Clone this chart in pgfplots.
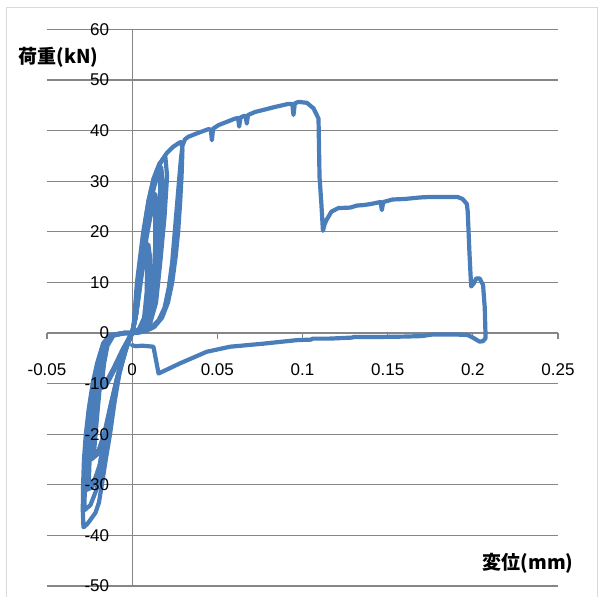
\documentclass[border=0pt]{standalone}
\usepackage{pgfplots}
\pgfplotsset{compat=1.18}
\usepackage{fontspec}
\setmainfont{Liberation Sans}
\newfontfamily\jp{Noto Sans CJK JP}
\definecolor{exblue}{RGB}{74,126,187}
\definecolor{exgrid}{RGB}{134,134,134}
\definecolor{exframe}{RGB}{217,217,217}
\tikzset{hys/.style={draw=exblue, line width=4.2pt, line join=round, line cap=round, mark=none, solid}}
\pgfplotsset{layers/labelstop/.define layer set={axis background,axis grid,axis ticks,axis lines,main,axis tick labels,axis descriptions,axis foreground}{/pgfplots/layers/standard}}
\begin{document}
\begin{tikzpicture}[x=1pt,y=1pt]
\path (0,0) rectangle (600,597);
\begin{axis}[
  set layers=labelstop,
  at={(47pt,11pt)}, anchor=south west,
  scale only axis, width=511pt, height=556.5pt,
  xmin=-0.05, xmax=0.25, ymin=-50, ymax=60,
  axis lines=middle,
  axis line style={-, exgrid, line width=1.3pt},
  xtick={-0.05,0,0.05,0.1,0.15,0.2,0.25},
  xticklabels={-0.05,0,0.05,0.1,0.15,0.2,0.25},
  ytick={-50,-40,-30,-20,-10,0,10,20,30,40,50,60},
  yticklabels={-50,-40,-30,-20,-10,0,10,20,30,40,50,60},
  scaled ticks=false,
  hide obscured x ticks=false, hide obscured y ticks=false,
  tick align=outside, major tick length=5.5pt,
  tick style={exgrid, line width=1.2pt},
  ymajorgrids, major grid style={exgrid, line width=1.2pt},
  tick label style={font=\fontsize{17}{20}\selectfont, text=black},
  xticklabel style={anchor=center, yshift=-31pt},
  yticklabel style={anchor=east, xshift=-14pt},
  clip=false,
]
% cycle A1
\addplot[hys] coordinates {(0,0)(0.0015,3)(0.0035,9)(0.006,13)(0.008,15.5)(0.0088,13)(0.0085,8)(0.007,3)(0.004,0.8)(0,0)
 (-0.004,0)(-0.011,-0.5)(-0.0145,-2.5)(-0.0165,-6)(-0.0178,-10)(-0.015,-9.5)(-0.011,-7)(-0.006,-3.5)(-0.002,-1)(0,0)};
% cycle A2
\addplot[hys] coordinates {(0,0)(0.002,3)(0.0045,10)(0.0075,15)(0.0095,17.5)(0.0105,15)(0.0105,9)(0.0085,3)(0.005,0.8)(0,0)
 (-0.0045,0)(-0.0115,-0.5)(-0.015,-2.5)(-0.0175,-6)(-0.019,-11)(-0.0155,-10.5)(-0.01,-7)(-0.005,-3)(0,0)};
% cycle B1
\addplot[hys] coordinates {(0,0)(0.002,3)(0.004,9)(0.0075,18)(0.0105,23)(0.0125,25.5)(0.0135,23)(0.0135,17)(0.0125,10)(0.0105,4)(0.0065,1)(0,0)
 (-0.005,0)(-0.012,-0.5)(-0.0155,-2.5)(-0.0175,-6)(-0.0188,-10)(-0.0202,-15)(-0.0215,-20)(-0.0225,-24)(-0.019,-23)(-0.0155,-19)(-0.0115,-13)(-0.0075,-7)(-0.003,-2)(0,0)};
% cycle B2
\addplot[hys] coordinates {(0,0)(0.0025,4)(0.005,10)(0.0085,19)(0.0115,24.5)(0.0135,27.5)(0.0148,25)(0.0148,18)(0.0138,10)(0.0115,4)(0.007,1)(0,0)
 (-0.005,0)(-0.0125,-0.5)(-0.016,-2.3)(-0.0185,-6)(-0.020,-10)(-0.0218,-15)(-0.0232,-20)(-0.024,-25)(-0.0205,-24)(-0.0165,-20)(-0.0125,-14)(-0.0085,-8.5)(-0.004,-3)(0,0)};
% cycle C1
\addplot[hys] coordinates {(0,0)(0.002,3)(0.0045,10)(0.0075,19)(0.0105,26)(0.0135,30)(0.0155,31.5)(0.0165,29)(0.016,22)(0.0148,14)(0.0128,6)(0.0095,2)(0.005,0.5)(0,0)
 (-0.005,0)(-0.0125,-0.5)(-0.0162,-2.3)(-0.0192,-6)(-0.021,-10)(-0.0228,-15)(-0.0242,-20)(-0.025,-25)(-0.0255,-30)(-0.0225,-29.5)(-0.019,-26)(-0.0155,-20)(-0.012,-14)(-0.008,-8)(-0.003,-2.5)(0,0)};
% cycle C2
\addplot[hys] coordinates {(0,0)(0.0025,4)(0.005,10.5)(0.0085,20)(0.0115,27)(0.0145,31)(0.017,32.8)(0.018,30)(0.0172,22)(0.0158,13)(0.0135,6)(0.0105,2)(0.006,0.5)(0,0)
 (-0.005,0)(-0.0128,-0.5)(-0.0165,-2.2)(-0.0198,-6)(-0.022,-10)(-0.024,-15)(-0.0255,-20)(-0.0263,-25)(-0.0268,-31)(-0.0235,-30.5)(-0.0195,-27)(-0.0165,-21)(-0.013,-15)(-0.009,-9)(-0.004,-3.5)(0,0)};
% cycle D
\addplot[hys] coordinates {(0,0)(0.0012,2)(0.003,9)(0.0065,19)(0.0095,26)(0.0125,30.5)(0.016,33.5)(0.0195,34.8)(0.0205,31)(0.019,23)(0.0165,14)(0.014,6)(0.0106,2)(0.006,0.5)(0,0)
 (-0.005,0)(-0.013,-0.45)(-0.0168,-2.1)(-0.0202,-6)(-0.0226,-10)(-0.0247,-15)(-0.0263,-20)(-0.0273,-25)(-0.0278,-30)(-0.028,-35)(-0.0245,-34)(-0.021,-31)(-0.018,-27)(-0.015,-21)(-0.0115,-14)(-0.0075,-8)(-0.003,-2.5)(0,0)};
% large cycle E
\addplot[hys] coordinates {(0,0)(0.001,2)(0.0028,10)(0.0065,20)(0.0095,26)(0.0123,30)(0.0147,32.2)(0.0175,34.2)(0.0204,35.6)(0.024,36.8)(0.028,37.7)(0.029,37.7)
 (0.0295,36)(0.029,31)(0.0282,26)(0.027,20)(0.0255,15)(0.0235,10)(0.021,6)(0.0175,3)(0.013,1.2)(0.008,0.4)(0.003,0)(0,0)
 (-0.005,0)(-0.013,-0.4)(-0.017,-2)(-0.0206,-6)(-0.0232,-10)(-0.0255,-15)(-0.0272,-20)(-0.0283,-25)(-0.0288,-30)(-0.029,-35)(-0.0286,-38.4)
 (-0.0265,-37.8)(-0.0247,-37)(-0.0215,-35.5)(-0.0195,-33.5)(-0.0178,-30)(-0.0155,-25)(-0.013,-20)(-0.0105,-14)(-0.0075,-8)(-0.004,-3)(0,0)};
% final loading to failure and unloading
\addplot[hys] coordinates {(0,0)(0.005,0.3)(0.011,1)(0.0155,2.5)(0.019,5)(0.0215,9)(0.0235,14)(0.025,20)(0.0265,26)(0.0275,30)(0.0285,34)(0.0295,37)(0.031,38.3)
 (0.033,38.8)(0.039,39.6)(0.0448,40.3)(0.0462,40.2)(0.0468,38.1)(0.0475,40.4)(0.0507,41.1)(0.0605,42.4)(0.0622,42.5)(0.0628,40.8)(0.0636,42.6)(0.0654,42.9)(0.0666,42.9)(0.0673,41.4)(0.068,43.1)
 (0.0722,43.7)(0.084,44.7)(0.0918,45.3)(0.094,45.3)(0.0947,43.1)(0.0955,45.4)(0.0977,45.7)(0.1026,45.5)(0.1065,44.4)(0.1094,42.4)
 (0.110,30.8)(0.111,26)(0.112,20.2)(0.113,21.5)(0.114,22.3)(0.117,24)(0.121,24.7)(0.128,24.8)(0.132,25.2)(0.136,25.3)(0.140,25.5)(0.1458,25.9)(0.1466,24.3)(0.1474,25.9)
 (0.153,26.4)(0.160,26.5)(0.169,26.8)(0.175,26.9)(0.191,26.9)(0.194,26.5)(0.1965,25.5)(0.197,24)(0.198,16)(0.199,9.2)(0.2005,9.8)(0.202,10.8)(0.204,10.8)(0.206,9.5)(0.207,5)(0.2075,-1)
 (0.206,-1.6)(0.204,-1.7)(0.2,-0.9)(0.197,-0.4)(0.191,-0.3)(0.176,-0.3)(0.17,-0.6)(0.16,-0.7)(0.14,-0.8)(0.13,-0.8)(0.129,-0.9)(0.116,-1.1)(0.106,-1.1)(0.105,-1.3)
 (0.0967,-1.4)(0.077,-2.1)(0.0575,-2.7)(0.0438,-3.7)(0.028,-6)(0.0155,-8)(0.0125,-2.7)(0.006,-2.5)(0.002,-2.6)(0,-2.4)};
\end{axis}
\draw[exframe, line width=1pt] (6,0) -- (6,589) -- (597,589) -- (597,0);
\node[font=\jp\bfseries\fontsize{19}{22}\selectfont] at (58.5,539.5) {荷重(kN)};
\node[font=\jp\bfseries\fontsize{19}{22}\selectfont] at (528,33.5) {変位(mm)};
\end{tikzpicture}
\end{document}
